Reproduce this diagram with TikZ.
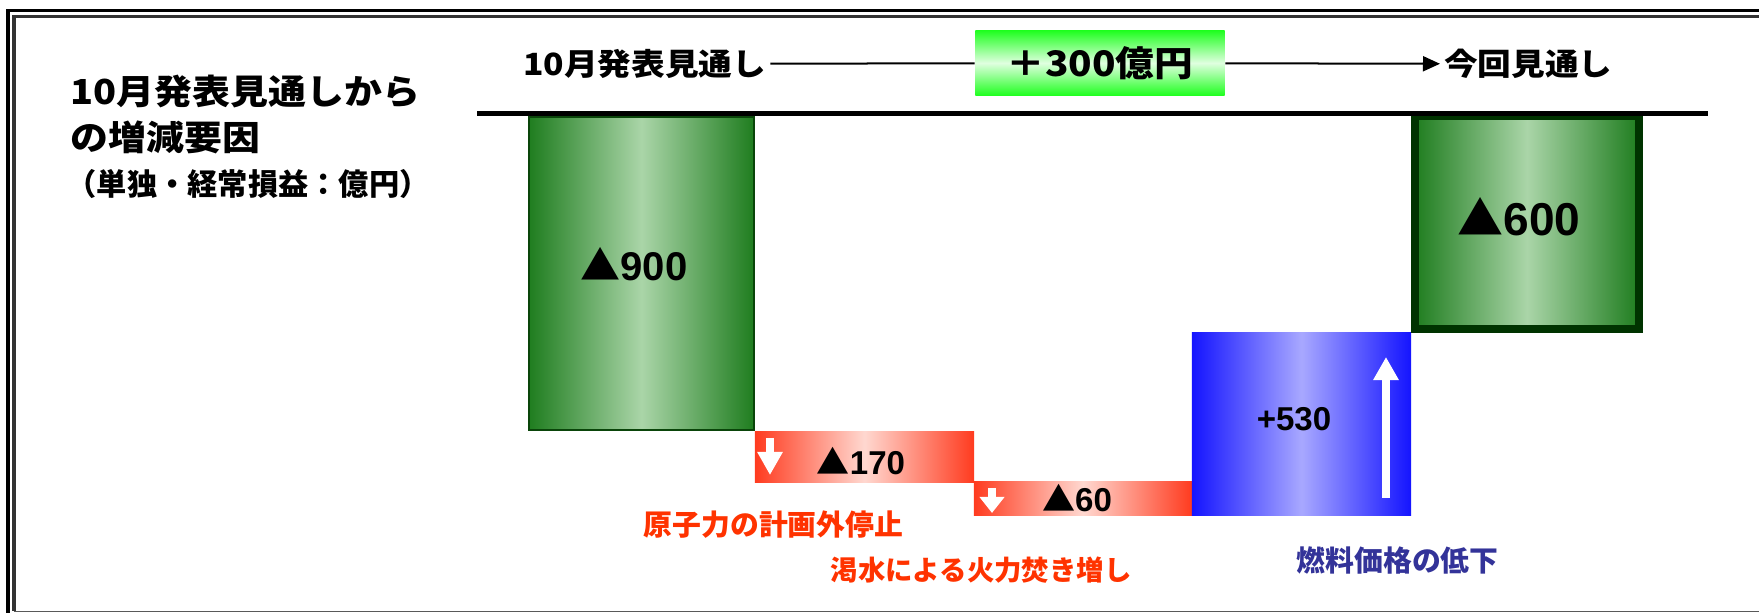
\documentclass[tikz,border=0pt]{standalone}
\usepackage{fontspec}
\setmainfont{Liberation Sans}
\newfontfamily\jp{Noto Sans CJK JP}
\newfontfamily\jpw{Noto Sans CJK JP}[FakeStretch=1.1]
\usetikzlibrary{arrows.meta}
\definecolor{bargreen}{HTML}{1F7D1F}
\definecolor{barlightgreen}{HTML}{AAD5A8}
\definecolor{barred}{HTML}{FF3B1F}
\definecolor{barlightred}{HTML}{FFD8D0}
\definecolor{barblue}{HTML}{1414FF}
\definecolor{barlightblue}{HTML}{A8A8FF}
\definecolor{boxgreen}{HTML}{22FF22}
\definecolor{boxlightgreen}{HTML}{E0FFE0}
\definecolor{labelred}{HTML}{FF3300}
\definecolor{labelblue}{HTML}{333399}
\definecolor{edgegreen}{HTML}{0A450A}
\definecolor{darkedgegreen}{HTML}{003300}
\newcommand{\blacktri}{{\jp ▲}}

\begin{document}
\begin{tikzpicture}[x=0.01cm, y=-0.01cm,
        bar/.style={rectangle, inner sep=0pt},
        greenbar/.style={bar, left color=bargreen, right color=bargreen, middle color=barlightgreen},
        redbar/.style={bar, left color=barred, right color=barred, middle color=barlightred},
        bluebar/.style={bar, left color=barblue, right color=barblue, middle color=barlightblue},
        value/.style={inner sep=0pt, font=\fontsize{9.4}{10}\selectfont\bfseries},
        hdr/.style={inner sep=1pt, font=\jpw\bfseries\fontsize{8.7}{10}\selectfont},
        redlabel/.style={inner sep=0pt, text=labelred, font=\jp\bfseries\fontsize{8.2}{10}\selectfont},
        whitearrow/.style={white, line width=0.08cm, -{Triangle[width=0.24cm, length=#1]}}]
      \useasboundingbox (0,0) rectangle (1759,613);
      % Frame
      \draw[line width=0.03cm] (1759,11) -- (8,11) -- (8,613);
      \draw[line width=0.03cm, black!80] (1759,16.5) -- (14,16.5) -- (14,611.5);
      \draw[line width=0.015cm, black!65] (14,611.5) -- (1759,611.5);

      % Title
      \node[anchor=west, inner sep=0pt, font=\jpw\bfseries\fontsize{9.8}{12}\selectfont] (title1) at (70,92) {10月発表見通しから};
      \node[anchor=west, inner sep=0pt, font=\jpw\bfseries\fontsize{9.8}{12}\selectfont] (title2) at (70,137) {の増減要因};
      \node[anchor=west, inner sep=0pt, font=\jp\bfseries\fontsize{8.6}{10}\selectfont] (title3) at (66,184) {（単独・経常損益：億円）};

      % Bars
      \node[greenbar, draw=edgegreen, line width=0.02cm, minimum width=2.25cm, minimum height=3.13cm] (before) at (641.5,273.5) {};
      \node[redbar, minimum width=2.19cm, minimum height=0.50cm] (nuclear) at (864.5,457) {};
      \node[redbar, minimum width=2.18cm, minimum height=0.33cm] (drought) at (1083,498.5) {};
      \node[bluebar, minimum width=2.19cm, minimum height=1.82cm] (fuel) at (1301.5,424) {};
      \node[greenbar, draw=darkedgegreen, line width=0.08cm, minimum width=2.24cm, minimum height=2.13cm] (after) at (1527,222.5) {};

      % Values
      \node[value, font=\fontsize{11.4}{12}\selectfont\bfseries] (v900) at (634,264) {\blacktri 900};
      \node[value] (v170) at (861,461) {\blacktri 170};
      \node[value] (v60) at (1077,498) {\blacktri 60};
      \node[value] (v530) at (1294,419) {+530};
      \node[value, font=\fontsize{13.1}{14}\selectfont\bfseries] (v600) at (1519,217) {\blacktri 600};

      % Axis
      \coordinate (axisl) at (477,114);
      \coordinate (axisr) at (1708,114);
      \draw[line width=0.05cm] (axisl) -- (axisr);

      % Arrows in bars
      \coordinate (d1a) at (770,438);
      \coordinate (d1b) at (770,475);
      \coordinate (d2a) at (992,488);
      \coordinate (d2b) at (992,513);
      \coordinate (u1a) at (1386,498);
      \coordinate (u1b) at (1386,357);
      \draw[whitearrow=0.23cm] (d1a) -- (d1b);
      \draw[whitearrow=0.16cm] (d2a) -- (d2b);
      \draw[whitearrow=0.23cm] (u1a) -- (u1b);

      % Header
      \node[hdr, anchor=west] (prev) at (519,64) {10月発表見通し};
      \node[rectangle, inner sep=0pt, minimum width=2.49cm, minimum height=0.64cm,
            top color=boxgreen, bottom color=boxgreen, middle color=boxlightgreen,
            font=\jpw\bfseries\fontsize{10}{12}\selectfont] (diff) at (1100,63) {＋300億円};
      \node[hdr, anchor=west] (now) at (1440,64) {今回見通し};
      \draw[line width=0.02cm] (prev) -- (diff);
      \draw[line width=0.02cm, -{Triangle[width=0.15cm, length=0.17cm]}] (diff) -- (now);

      % Labels
      \node[redlabel, anchor=west] (lblnuclear) at (643,525) {原子力の計画外停止};
      \node[redlabel, anchor=west, font=\jp\bfseries\fontsize{7.8}{10}\selectfont] (lbldrought) at (830,570) {渇水による火力焚き増し};
      \node[redlabel, anchor=west, text=labelblue] (lblfuel) at (1296,560) {燃料価格の低下};
    \end{tikzpicture}
\end{document}
